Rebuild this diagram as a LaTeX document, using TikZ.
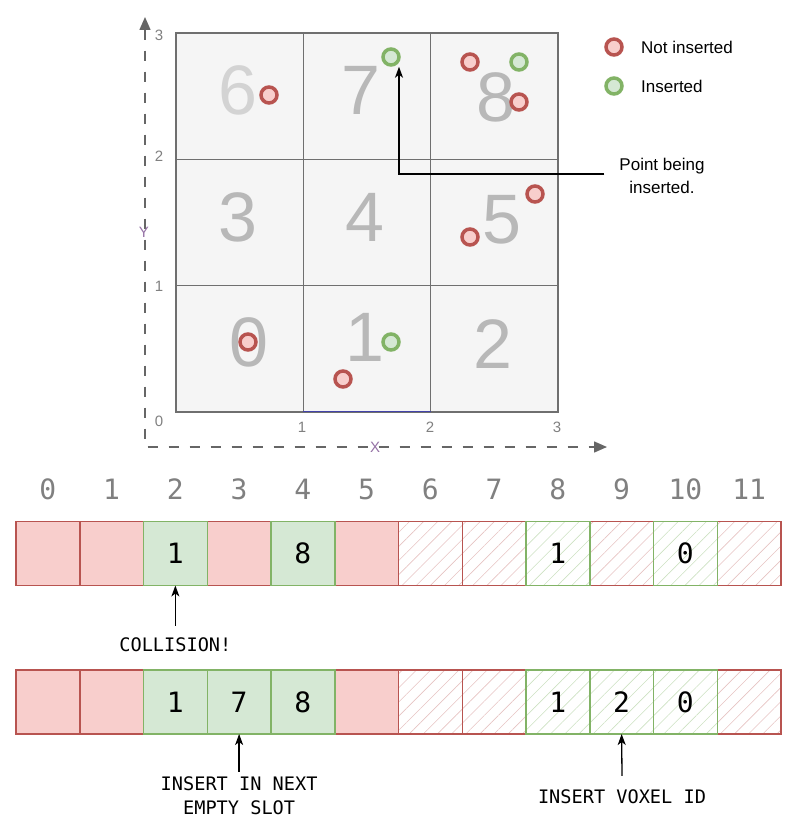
\documentclass[tikz,border=0pt]{standalone}
\usepackage{fontspec}
\setmainfont{Liberation Sans}
\newfontfamily\monofont{DejaVu Sans Mono}
\usetikzlibrary{arrows.meta,patterns.meta}
\definecolor{redS}{HTML}{B85450}
\definecolor{redF}{HTML}{F8CECC}
\definecolor{greenS}{HTML}{82B366}
\definecolor{greenF}{HTML}{D5E8D4}
\definecolor{gridS}{HTML}{6F6F6F}
\definecolor{gridF}{HTML}{F5F5F5}
\definecolor{digitC}{HTML}{B8B8B8}
\definecolor{digitL}{HTML}{D3D3D3}
\definecolor{purp}{HTML}{9673A6}
\definecolor{axisC}{HTML}{666666}
\definecolor{idxC}{HTML}{808080}
\tikzset{
  gcell/.style={draw=gridS, fill=gridF, line width=1.4pt, minimum width=127.33pt, minimum height=126.33pt, inner sep=0pt, outer sep=0pt},
  bigdigit/.style={text=digitC, inner sep=0pt, font=\fontsize{70}{70}\selectfont},
  ptR/.style={circle, draw=redS, fill=redF, line width=3.5pt, minimum size=16pt, inner sep=0pt},
  ptG/.style={circle, draw=greenS, fill=greenF, line width=3.5pt, minimum size=16pt, inner sep=0pt},
  ticklab/.style={text=idxC, font=\fontsize{15}{15}\selectfont, inner sep=0pt},
  axis/.style={draw=axisC, line width=1.5pt, dash pattern=on 10pt off 11pt, {Triangle[length=13pt,width=11pt]}-{Triangle[length=13pt,width=11pt]}},
  legtext/.style={anchor=west, inner sep=0pt, font=\fontsize{17}{21}\selectfont},
  cellbase/.style={minimum width=63.75pt, minimum height=64pt, inner sep=0pt, outer sep=0pt, line width=1.5pt, font=\monofont\fontsize{28}{28}\selectfont},
  rfill/.style={cellbase, draw=redS, fill=redF},
  gfill/.style={cellbase, draw=greenS, fill=greenF},
  rhatch/.style={cellbase, draw=redS, pattern={Lines[angle=45,distance=10pt,line width=0.6pt]}, pattern color=redS!35},
  ghatch/.style={cellbase, draw=greenS, pattern={Lines[angle=45,distance=10pt,line width=0.6pt]}, pattern color=greenS!40},
  idx/.style={text=idxC, font=\monofont\fontsize{28}{28}\selectfont, inner sep=0pt},
  note/.style={align=center, font=\monofont\fontsize{18.6}{24}\selectfont, inner sep=0pt},
  arr/.style={-{Stealth[length=11pt,width=8pt,inset=3pt]}, line width=1.3pt, draw=black}
}
\begin{document}
\begin{tikzpicture}[x=1pt,y=-1pt]
\useasboundingbox (0,0) rectangle (800,832);
% axes
\coordinate (ytop) at (145,17);
\coordinate (orig) at (145,447);
\coordinate (xend) at (607,447);
\draw[axis] (ytop) -- (orig) -- (xend);
% grid cells (row 0 bottom)
\node[gcell] (c0) at (239.67,348.83) {};
\node[gcell] (c1) at (367.00,348.83) {};
\node[gcell] (c2) at (494.33,348.83) {};
\node[gcell] (c3) at (239.67,222.50) {};
\node[gcell] (c4) at (367.00,222.50) {};
\node[gcell] (c5) at (494.33,222.50) {};
\node[gcell] (c6) at (239.67,96.17) {};
\node[gcell] (c7) at (367.00,96.17) {};
\node[gcell] (c8) at (494.33,96.17) {};
\draw[draw=blue!40!gridS, line width=1pt] (c1.south west) -- (c1.south east);
% big digits
\node[bigdigit] (d0) at (249,342) {0};
\node[bigdigit] (d1) at (365,337) {1};
\node[bigdigit] (d2) at (493,344) {2};
\node[bigdigit] (d3) at (238,217) {3};
\node[bigdigit] (d4) at (365,217) {4};
\node[bigdigit] (d5) at (502,220) {5};
\node[bigdigit, text=digitL] (d6) at (238,90) {6};
\node[bigdigit] (d7) at (361,90) {7};
\node[bigdigit] (d8) at (496,97) {8};
% tick labels
\node[ticklab] (ty3) at (159,35) {3};
\node[ticklab] (ty2) at (159,156) {2};
\node[ticklab] (ty1) at (159,286) {1};
\node[ticklab] (ty0) at (159,421) {0};
\node[ticklab] (tx1) at (302,427) {1};
\node[ticklab] (tx2) at (430,427) {2};
\node[ticklab] (tx3) at (557,427) {3};
\node[ticklab, text=purp] (xl) at (375,447) {X};
\node[ticklab, text=purp] (yl) at (144,232) {Y};
% points
\node[ptR] (p6) at (269,95) {};
\node[ptG] (p7) at (391,57) {};
\node[ptR] (p8a) at (470,62) {};
\node[ptG] (p8b) at (519,62) {};
\node[ptR] (p8c) at (519,102) {};
\node[ptR] (p5a) at (535,194) {};
\node[ptR] (p5b) at (470,237) {};
\node[ptR] (p0) at (248,342) {};
\node[ptG] (p1a) at (391,342) {};
\node[ptR] (p1b) at (343,379) {};
% legend
\node[ptR] (lr) at (614,47) {};
\node[ptG] (lg) at (614,86) {};
\node[legtext] (ltr) at (641,47) {Not inserted};
\node[legtext] (ltg) at (641,86) {Inserted};
% annotation
\node[align=center, inner sep=0pt, font=\fontsize{17}{23}\selectfont] (lbl) at (662,176) {Point being\\inserted.};
\draw[arr] ([xshift=-15pt,yshift=2pt]lbl.west) -| ([xshift=8pt]p7.south);
% index labels
\foreach \i in {0,...,11} {
  \node[idx] (ix\i) at ({16+63.75*(\i+0.5)},489) {\i};
}
% row 1
\foreach \i/\s in {0/rfill,1/rfill,3/rfill,5/rfill,6/rhatch,7/rhatch,9/rhatch,11/rhatch} {
  \node[\s] (a\i) at ({16+63.75*(\i+0.5)},553.5) {};
}
\node[gfill] (a2) at ({16+63.75*2.5},553.5) {1};
\node[gfill] (a4) at ({16+63.75*4.5},553.5) {8};
\node[ghatch] (a8) at ({16+63.75*8.5},553.5) {1};
\node[ghatch] (a10) at ({16+63.75*10.5},553.5) {0};
% row 2
\foreach \i/\s in {0/rfill,1/rfill,5/rfill,6/rhatch,7/rhatch,11/rhatch} {
  \node[\s] (b\i) at ({16+63.75*(\i+0.5)},702) {};
}
\node[gfill] (b2) at ({16+63.75*2.5},702) {1};
\node[gfill] (b3) at ({16+63.75*3.5},702) {7};
\node[gfill] (b4) at ({16+63.75*4.5},702) {8};
\node[ghatch] (b8) at ({16+63.75*8.5},702) {1};
\node[ghatch] (b9) at ({16+63.75*9.5},702) {2};
\node[ghatch] (b10) at ({16+63.75*10.5},702) {0};
% notes
\node[note] (n1) at ({16+63.75*2.5},645) {COLLISION!};
\node[note] (n2) at ({16+63.75*3.5},796) {INSERT IN NEXT\\EMPTY SLOT};
\node[note] (n3) at (622,797) {INSERT VOXEL ID};
\draw[arr] ([yshift=12pt]n1.north) -- (a2.south);
\draw[arr] ([yshift=5pt]n2.north) -- (b3.south);
\draw[arr] ([yshift=14pt]n3.north) -- (b9.south);
\end{tikzpicture}
\end{document}
